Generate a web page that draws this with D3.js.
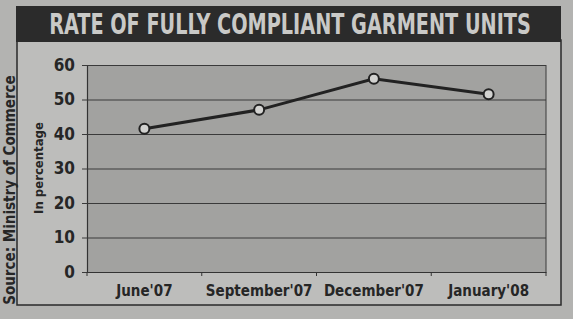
<!DOCTYPE html>
<html><head><meta charset="utf-8">
<script src="https://cdn.jsdelivr.net/npm/d3@7"></script>
<style>
html,body{margin:0;padding:0;background:#b3b3b1;}
svg{display:block;}
text{font-family:"Liberation Sans Narrow","DejaVu Sans Condensed","Roboto",sans-serif;font-weight:bold;}
</style></head>
<body>
<svg id="c" width="573" height="319"></svg>
<script>
const title = "RATE OF FULLY COMPLIANT GARMENT UNITS";
const categories = ["June'07", "September'07", "December'07", "January'08"];
const values = [41.5, 47, 56, 51.5];
const yTicks = [0, 10, 20, 30, 40, 50, 60];
const yLabel = "In percentage";
const source = "Source: Ministry of Commerce";

const svg = d3.select("#c");
const W = 573, H = 319;
const plot = {l: 87, r: 546, t: 65, b: 272};

svg.append("rect").attr("width", W).attr("height", H).attr("fill", "#b3b3b1");
// frame
svg.append("rect").attr("x", 17).attr("y", 40).attr("width", 544).attr("height", 265)
  .attr("fill", "#bdbdbb").attr("stroke", "#2a2a2a").attr("stroke-width", 1.5);
// title bar
svg.append("rect").attr("x", 16).attr("y", 6).attr("width", 545).attr("height", 36).attr("fill", "#2b2b2b");
const tg = svg.append("g");
const tt = tg.append("text").attr("x", 0).attr("y", 0).attr("text-anchor", "middle")
  .attr("font-size", 28).attr("fill", "#c9c9c7").text(title);
const tw = tt.node().getComputedTextLength();
const sx = Math.min(1, 482 / tw);
tg.attr("transform", `translate(290,34) scale(${sx},1)`);

const x = d3.scaleBand().domain(categories).range([plot.l, plot.r]);
const y = d3.scaleLinear().domain([0, 60]).range([plot.b, plot.t]);

// plot background
svg.append("rect").attr("x", plot.l).attr("y", plot.t).attr("width", plot.r - plot.l).attr("height", plot.b - plot.t)
  .attr("fill", "#a2a2a0");

// y axis with gridlines
const yAxis = svg.append("g").attr("transform", `translate(${plot.l},0)`)
  .call(d3.axisLeft(y).tickValues(yTicks).tickSize(-(plot.r - plot.l)).tickSizeOuter(0).tickPadding(12));
yAxis.select(".domain").attr("stroke", "#333").attr("stroke-width", 1.2);
yAxis.selectAll(".tick line").attr("stroke", "#3a3a3a").attr("stroke-width", 1).attr("x1", -5);
yAxis.selectAll(".tick text").attr("font-size", 17).attr("fill", "#262626")
  .attr("font-family", "'Liberation Sans Narrow','DejaVu Sans Condensed',sans-serif").attr("font-weight", "bold");

// right border
svg.append("line").attr("x1", plot.r).attr("x2", plot.r).attr("y1", plot.t).attr("y2", plot.b)
  .attr("stroke", "#3a3a3a").attr("stroke-width", 1);

// x axis
const xAxis = svg.append("g").attr("transform", `translate(0,${plot.b})`)
  .call(d3.axisBottom(x).tickSize(0).tickPadding(13));
xAxis.select(".domain").attr("stroke", "#333").attr("stroke-width", 1.2);
xAxis.selectAll(".tick text").attr("font-size", 15).attr("fill", "#262626")
  .attr("font-family", "'Liberation Sans Narrow','DejaVu Sans Condensed',sans-serif").attr("font-weight", "bold");
// boundary tick marks
const bounds = categories.map(c => x(c)).concat([x(categories[categories.length - 1]) + x.bandwidth()]);
svg.append("g").selectAll("line").data(bounds).join("line")
  .attr("x1", d => d).attr("x2", d => d).attr("y1", plot.b).attr("y2", plot.b + 4)
  .attr("stroke", "#333").attr("stroke-width", 1);

// line
const line = d3.line().x((d, i) => x(categories[i]) + x.bandwidth() / 2).y(d => y(d));
svg.append("path").datum(values).attr("d", line).attr("fill", "none")
  .attr("stroke", "#222").attr("stroke-width", 3);
svg.append("g").selectAll("circle").data(values).join("circle")
  .attr("cx", (d, i) => x(categories[i]) + x.bandwidth() / 2).attr("cy", d => y(d)).attr("r", 5)
  .attr("fill", "#d2d2d0").attr("stroke", "#222").attr("stroke-width", 2);

// y label
svg.append("text").attr("transform", `translate(43,168) rotate(-90)`).attr("text-anchor", "middle")
  .attr("font-size", 13).attr("fill", "#262626").text(yLabel);
// source
svg.append("text").attr("transform", `translate(15,190) rotate(-90)`).attr("text-anchor", "middle")
  .attr("font-size", 15).attr("fill", "#262626").attr("font-weight", "normal").text(source);
</script>
</body></html>
